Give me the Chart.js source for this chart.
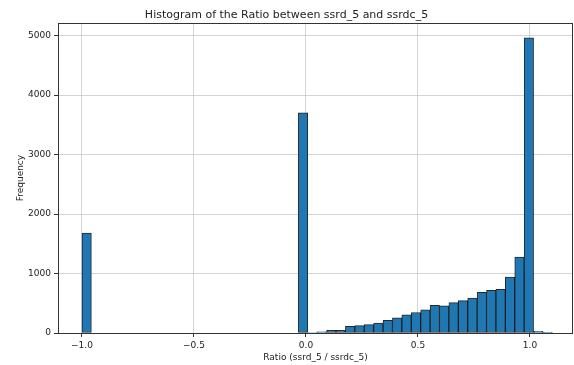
<!DOCTYPE html>
<html>
<head>
<meta charset="utf-8">
<script src="https://cdn.jsdelivr.net/npm/chart.js@4/dist/chart.umd.min.js"></script>
<style>
html,body{margin:0;padding:0;background:#fff;}
#wrap{width:574px;height:365px;}
</style>
</head>
<body>
<div id="wrap"><canvas id="c" width="574" height="365"></canvas></div>
<script>
// Histogram bins: 50 bins of equal width starting at -1.0
const binStart = -1.0;
const binWidth = 0.042;
const counts = [
  1680, 0, 0, 0, 0, 0, 0, 0, 0, 0,
  0, 0, 0, 0, 0, 0, 0, 0, 0, 0,
  0, 0, 0, 3700, 8, 18, 44, 44, 111, 123,
  140, 165, 212, 255, 305, 345, 390, 465, 455, 510,
  545, 588, 685, 718, 735, 938, 1275, 4960, 28, 10
];
const xTicks = [-1.0, -0.5, 0.0, 0.5, 1.0];
const yTicks = [0, 1000, 2000, 3000, 4000, 5000];
const titleText = 'Histogram of the Ratio between ssrd_5 and ssrdc_5';
const xLabel = 'Ratio (ssrd_5 / ssrdc_5)';
const yLabel = 'Frequency';

const binCenters = counts.map((_, i) => binStart + binWidth * (i + 0.5));
const points = binCenters.map((x, i) => ({x: x, y: counts[i]}));

const framePlugin = {
  id: 'frame',
  afterDraw(chart) {
    const {ctx, chartArea: a} = chart;
    ctx.save();
    ctx.strokeStyle = '#333';
    ctx.lineWidth = 1;
    ctx.strokeRect(Math.round(a.left) + 0.5, Math.round(a.top) + 0.5,
                   Math.round(a.right - a.left) - 1, Math.round(a.bottom - a.top));
    ctx.restore();
  }
};

const font = {family: '"DejaVu Sans", sans-serif', size: 9};

new Chart(document.getElementById('c'), {
  type: 'bar',
  data: {
    datasets: [{
      data: points,
      backgroundColor: '#1f77b4',
      borderColor: 'rgba(0,0,0,0.85)',
      borderWidth: 1,
      barPercentage: 1.0,
      categoryPercentage: 1.0,
      borderSkipped: false
    }]
  },
  options: {
    responsive: false,
    animation: false,
    layout: {padding: {left: 0, right: 1, top: 0, bottom: 0}},
    plugins: {
      legend: {display: false},
      tooltip: {enabled: false},
      title: {
        display: true,
        text: titleText,
        color: '#222',
        font: {family: '"DejaVu Sans", sans-serif', size: 11, weight: 'normal'},
        padding: {top: 9, bottom: 1}
      }
    },
    scales: {
      x: {
        type: 'linear',
        min: -1.107,
        max: 1.192,
        offset: false,
        z: 1,
        grid: {offset: false, color: 'rgba(176,176,176,0.55)', tickColor: '#333', tickLength: 4, lineWidth: 1},
        border: {display: false},
        afterBuildTicks(scale) { scale.ticks = xTicks.map(v => ({value: v})); },
        afterFit(scale) { scale.height = 32; },
        ticks: {
          font: font, color: '#222', padding: 3, maxRotation: 0, autoSkip: false,
          callback: (v) => (v < 0 ? '\u2212' : '') + Math.abs(v).toFixed(1)
        },
        title: {display: true, text: xLabel, font: font, color: '#222', padding: {top: 0, bottom: 2}}
      },
      y: {
        type: 'linear',
        min: 0,
        max: 5207,
        z: 1,
        grid: {color: 'rgba(176,176,176,0.55)', tickColor: '#333', tickLength: 4, lineWidth: 1},
        border: {display: false},
        afterBuildTicks(scale) { scale.ticks = yTicks.map(v => ({value: v})); },
        afterFit(scale) { scale.width = 58; },
        ticks: {font: font, color: '#222', padding: 3, callback: (v) => String(v)},
        title: {display: true, text: yLabel, font: font, color: '#222', padding: {top: 15, bottom: 0}}
      }
    }
  },
  plugins: [framePlugin]
});
</script>
</body>
</html>
